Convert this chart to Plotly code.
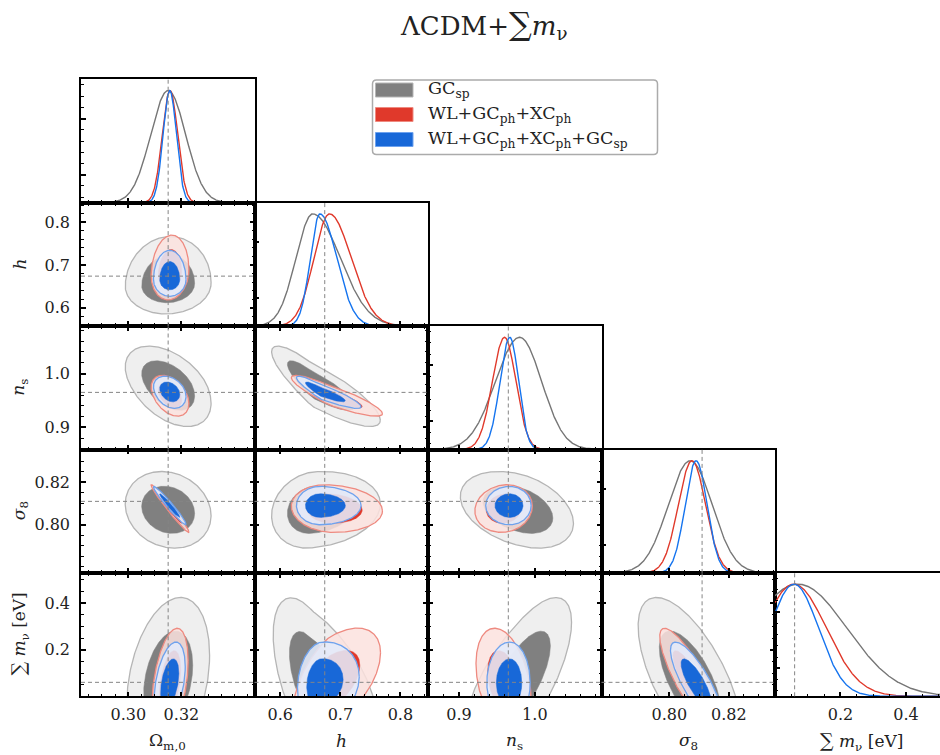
import numpy as np
import plotly.graph_objects as go

# ---------------- parameters ----------------
SUM = '<span style="font-size:19px">∑</span>'
param_labels = ["Ω<sub>m,0</sub>", "<i>h</i>", "<i>n</i><sub>s</sub>",
                "<i>σ</i><sub>8</sub>", SUM + " <i>m</i><sub>ν</sub> [eV]"]
fiducial = [0.315, 0.674, 0.965, 0.811, 0.06]
axis_lo = [0.2822, 0.557, 0.859, 0.7772, 0.0]
axis_hi = [0.3475, 0.846, 1.088, 0.8355, 0.53]
major_ticks = [[0.30, 0.32], [0.6, 0.7, 0.8], [0.9, 1.0], [0.80, 0.82], [0.2, 0.4]]
major_text = [["0.30", "0.32"], ["0.6", "0.7", "0.8"], ["0.9", "1.0"],
              ["0.80", "0.82"], ["0.2", "0.4"]]
minor_step = [0.005, 0.02, 0.02, 0.005, 0.05]

# pair order used by the correlation lists
pairs = [(0, 1), (0, 2), (0, 3), (0, 4), (1, 2), (1, 3), (1, 4), (2, 3), (2, 4), (3, 4)]

# ---------------- posteriors (mode, lower / upper widths, pair correlations) -------------
series_names = ["GC<sub>sp</sub>",
                "WL+GC<sub>ph</sub>+XC<sub>ph</sub>",
                "WL+GC<sub>ph</sub>+XC<sub>ph</sub>+GC<sub>sp</sub>"]

gc_mean = [0.3150, 0.654, 0.980, 0.807, 0.070]
gc_lo = [0.0066, 0.028, 0.032, 0.0074, 0.150]
gc_hi = [0.0066, 0.046, 0.029, 0.0074, 0.150]
gc_rho = [0.05, -0.45, -0.15, 0.30, -0.85, 0.15, -0.55, -0.35, 0.70, -0.65]

ph_mean = [0.3157, 0.682, 0.960, 0.8076, 0.057]
ph_lo = [0.0029, 0.026, 0.016, 0.0046, 0.095]
ph_hi = [0.0029, 0.036, 0.015, 0.0046, 0.100]
ph_rho = [0.10, -0.40, -0.98, 0.40, -0.88, -0.10, 0.55, 0.10, -0.35, -0.85]

all_mean = [0.3156, 0.666, 0.967, 0.809, 0.058]
all_lo = [0.0025, 0.016, 0.013, 0.0037, 0.075]
all_hi = [0.0025, 0.028, 0.0115, 0.0037, 0.075]
all_rho = [0.00, -0.30, -0.97, 0.40, -0.90, 0.00, 0.15, 0.00, 0.00, -0.80]

datasets = [
    dict(mean=gc_mean, lo=gc_lo, hi=gc_hi, rho=gc_rho,
         fill95="#efefef", edge95="#b5b5b5", fill68="#808080", line="#767676"),
    dict(mean=ph_mean, lo=ph_lo, hi=ph_hi, rho=ph_rho,
         fill95="rgba(251,226,222,0.85)", edge95="#ee8a80", fill68="#e0392b", line="#e0392b"),
    dict(mean=all_mean, lo=all_lo, hi=all_hi, rho=all_rho,
         fill95="rgba(226,234,250,0.88)", edge95="#6ea2ee", fill68="#1868d8", line="#1574ef"),
]
levels = [0.95, 0.68]
TRUNC = 4  # sum of neutrino masses has a positivity prior

W, H = 940, 755
col_edges = [81, 254.5, 428, 601.5, 775, 948.5]
row_edges = [79.3, 202.7, 326.1, 449.5, 572.9, 696.3]
FONT = "DejaVu Serif"
TXT = "#222222"


def scale(val, lo, hi):
    return np.where(val < 0, lo, hi)


def level_r2(p, d, i, j, rho):
    """Squared radius (whitened) of the region holding fraction p of the mass."""
    if j != TRUNC:
        return -2.0 * np.log(1.0 - p)
    g = np.linspace(-7, 7, 1201)
    A, B = np.meshgrid(g, g)
    U = A
    V = rho * A + np.sqrt(1 - rho ** 2) * B
    sx = scale(U, d["lo"][i], d["hi"][i])
    sy = scale(V, d["lo"][j], d["hi"][j])
    Y = d["mean"][j] + sy * V
    R2 = A ** 2 + B ** 2
    w = np.exp(-0.5 * R2) * sx * sy * (Y >= 0)
    R2 = R2.ravel()
    w = w.ravel()
    order = np.argsort(R2)
    cw = np.cumsum(w[order])
    cw /= cw[-1]
    return R2[order][np.searchsorted(cw, p)]


def contour_xy(d, i, j, rho, r2, n=361):
    t = np.linspace(0, 2 * np.pi, n)
    r = np.sqrt(r2)
    a, b = r * np.cos(t), r * np.sin(t)
    u = a
    v = rho * a + np.sqrt(1 - rho ** 2) * b
    x = d["mean"][i] + scale(u, d["lo"][i], d["hi"][i]) * u
    y = d["mean"][j] + scale(v, d["lo"][j], d["hi"][j]) * v
    return x, y


fig = go.Figure()
layout = dict(width=W, height=H, margin=dict(l=0, r=0, t=0, b=0),
              paper_bgcolor="white", plot_bgcolor="white", showlegend=False)
shapes = []
annotations = []

tick_common = dict(showline=True, linecolor="black", linewidth=1.6,
                   ticks="inside", ticklen=5, tickwidth=1.6, tickcolor="black",
                   showgrid=False, zeroline=False, fixedrange=True,
                   tickfont=dict(family=FONT, size=16, color=TXT))

k = 0
for r in range(5):
    for c in range(r + 1):
        k += 1
        sfx = "" if k == 1 else str(k)
        xref, yref = "x" + sfx, "y" + sfx
        x0p = col_edges[c] / W
        x1p = min(col_edges[c + 1], W) / W
        y0p = 1 - row_edges[r + 1] / H
        y1p = 1 - row_edges[r] / H

        xr = [axis_lo[c], axis_hi[c]]
        if col_edges[c + 1] > W:
            frac = (W - col_edges[c]) / (col_edges[c + 1] - col_edges[c])
            xr = [axis_lo[c], axis_lo[c] + frac * (axis_hi[c] - axis_lo[c])]

        diag = (r == c)
        xaxis = dict(tick_common, domain=[x0p, x1p], range=xr, anchor=yref,
                     tickmode="array", tickvals=major_ticks[c], ticktext=major_text[c],
                     showticklabels=(r == 4), ticklabelstandoff=3,
                     mirror=True if diag else "ticks",
                     minor=dict(ticks="inside", ticklen=3, tickwidth=1, tickcolor="black",
                                dtick=minor_step[c], tick0=0, showgrid=False))
        if diag:
            yaxis = dict(tick_common, domain=[y0p, y1p], range=[0, 1.1], anchor=xref,
                         tickmode="array", tickvals=[0.25, 0.75], showticklabels=False,
                         mirror=(c != 4),
                         minor=dict(ticks="inside", ticklen=3, tickwidth=1, tickcolor="black",
                                    dtick=0.1, tick0=0.05, showgrid=False))
        else:
            yaxis = dict(tick_common, domain=[y0p, y1p], range=[axis_lo[r], axis_hi[r]],
                         anchor=xref, tickmode="array", tickvals=major_ticks[r],
                         ticktext=major_text[r], showticklabels=(c == 0),
                         ticklabelstandoff=6, mirror="ticks",
                         minor=dict(ticks="inside", ticklen=3, tickwidth=1, tickcolor="black",
                                    dtick=minor_step[r], tick0=0, showgrid=False))
        layout["xaxis" + sfx] = xaxis
        layout["yaxis" + sfx] = yaxis

        if diag:
            start = 0.0 if c == TRUNC else axis_lo[c]
            xs = np.linspace(start, axis_hi[c], 500)
            for d in datasets:
                u = (xs - d["mean"][c]) / scale(xs - d["mean"][c], d["lo"][c], d["hi"][c])
                fig.add_trace(go.Scatter(x=xs, y=np.exp(-0.5 * u ** 2), mode="lines",
                                         line=dict(color=d["line"], width=1.4),
                                         xaxis=xref, yaxis=yref, hoverinfo="skip"))
            shapes.append(dict(type="line", xref=xref, yref=yref + " domain",
                               x0=fiducial[c], x1=fiducial[c], y0=0, y1=1,
                               line=dict(color="#858585", width=1, dash="4px,3px")))
        else:
            pi = pairs.index((c, r))
            for d in datasets:
                rho = d["rho"][pi]
                for p in levels:
                    r2 = level_r2(p, d, c, r, rho)
                    x, y = contour_xy(d, c, r, rho, r2)
                    if p == 0.95:
                        fill, lc, lw = d["fill95"], d["edge95"], 1.3
                    else:
                        fill, lc, lw = d["fill68"], d["fill68"], 0.5
                    fig.add_trace(go.Scatter(x=x, y=y, mode="lines", fill="toself",
                                             fillcolor=fill, line=dict(color=lc, width=lw),
                                             xaxis=xref, yaxis=yref, hoverinfo="skip"))
            shapes.append(dict(type="line", xref=xref, yref=yref + " domain",
                               x0=fiducial[c], x1=fiducial[c], y0=0, y1=1,
                               line=dict(color="#858585", width=1, dash="4px,3px")))
            shapes.append(dict(type="line", xref=xref + " domain", yref=yref,
                               x0=0, x1=1, y0=fiducial[r], y1=fiducial[r],
                               line=dict(color="#858585", width=1, dash="4px,3px")))

# axis titles
for c in range(5):
    cx = (col_edges[c] + col_edges[c + 1]) / 2
    annotations.append(dict(text=param_labels[c], xref="paper", yref="paper",
                            x=cx / W, y=1 - 741 / H, xanchor="center", yanchor="middle",
                            showarrow=False, font=dict(family=FONT, size=17, color=TXT)))
for r in range(1, 5):
    cy = (row_edges[r] + row_edges[r + 1]) / 2
    annotations.append(dict(text=param_labels[r], xref="paper", yref="paper",
                            x=20 / W, y=1 - cy / H, xanchor="center", yanchor="middle",
                            textangle=-90, showarrow=False,
                            font=dict(family=FONT, size=17, color=TXT)))

# title
annotations.append(dict(text='ΛCDM+<span style="font-size:32px">∑</span><i>m</i><sub>ν</sub>',
                        xref="paper", yref="paper",
                        x=484 / W, y=1 - 24 / H, xanchor="center", yanchor="middle",
                        showarrow=False, font=dict(family=FONT, size=26, color=TXT)))

# legend
lx0, lx1, ly0, ly1, rad = 372.5, 657.5, 80.0, 154.5, 4.0


def px(x):
    return x / W


def py(y):
    return 1 - y / H


path = (f"M {px(lx0 + rad)},{py(ly0)} L {px(lx1 - rad)},{py(ly0)} "
        f"Q {px(lx1)},{py(ly0)} {px(lx1)},{py(ly0 + rad)} "
        f"L {px(lx1)},{py(ly1 - rad)} Q {px(lx1)},{py(ly1)} {px(lx1 - rad)},{py(ly1)} "
        f"L {px(lx0 + rad)},{py(ly1)} Q {px(lx0)},{py(ly1)} {px(lx0)},{py(ly1 - rad)} "
        f"L {px(lx0)},{py(ly0 + rad)} Q {px(lx0)},{py(ly0)} {px(lx0 + rad)},{py(ly0)} Z")
shapes.append(dict(type="path", xref="paper", yref="paper", path=path,
                   fillcolor="white", line=dict(color="#ababab", width=1.5)))
legend_rows = [90.0, 114.5, 139.5]
for d, name, ymid in zip(datasets, series_names, legend_rows):
    shapes.append(dict(type="rect", xref="paper", yref="paper",
                       x0=px(375.5), x1=px(413), y0=py(ymid - 7), y1=py(ymid + 7),
                       fillcolor=d["fill68"], line=dict(color=d["edge95"], width=1)))
    annotations.append(dict(text=name, xref="paper", yref="paper", x=px(426), y=py(ymid),
                            xanchor="left", yanchor="middle", showarrow=False,
                            font=dict(family=FONT, size=17.5, color=TXT)))

layout["shapes"] = shapes
layout["annotations"] = annotations
fig.update_layout(**layout)
fig.write_html("out.html")
